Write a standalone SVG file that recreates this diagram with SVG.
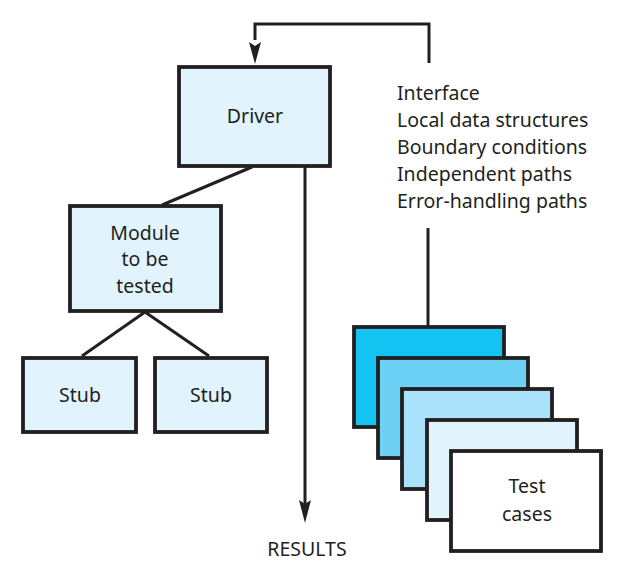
<svg xmlns="http://www.w3.org/2000/svg" width="640" height="580" viewBox="0 0 640 580">
<defs>
<style>
.box{stroke:#231f20;stroke-width:3.8;}
.lt{fill:#e1f3fd;}
.ln{stroke:#231f20;stroke-width:3;fill:none;}
text{font-family:"Noto Sans","Liberation Sans",sans-serif;font-size:19.5px;fill:#231f20;}
.c{text-anchor:middle;}
</style>
</defs>
<rect width="640" height="580" fill="#fff"/>
<g id="connectors">
<path class="ln" d="M429,63 V24 H255 V40"/>
<path d="M249,42 L255,64 L261,42 L255,46 Z" fill="#231f20"/>
<line class="ln" x1="305" y1="167" x2="305" y2="505"/>
<path d="M299,500 L305,523 L311,500 L305,504 Z" fill="#231f20"/>
<line class="ln" x1="252" y1="167" x2="162" y2="205"/>
<line class="ln" x1="145" y1="312" x2="82" y2="356"/>
<line class="ln" x1="145" y1="312" x2="209" y2="356"/>
<line class="ln" x1="428" y1="228" x2="428" y2="326"/>
</g>
<g id="driver">
<rect class="box lt" x="179" y="67" width="151" height="99"/>
<text class="c" x="255" y="123">Driver</text>
</g>
<g id="module">
<rect class="box lt" x="70" y="206" width="151" height="105"/>
<text class="c" x="145" y="240">Module</text>
<text class="c" x="145" y="266">to be</text>
<text class="c" x="145" y="293">tested</text>
</g>
<g id="stub1">
<rect class="box lt" x="23" y="358" width="113" height="74"/>
<text class="c" x="80" y="402">Stub</text>
</g>
<g id="stub2">
<rect class="box lt" x="155" y="358" width="112" height="74"/>
<text class="c" x="211" y="402">Stub</text>
</g>
<g id="criteria">
<text x="397" y="100">Interface</text>
<text x="397" y="127">Local data structures</text>
<text x="397" y="154">Boundary conditions</text>
<text x="397" y="181">Independent paths</text>
<text x="397" y="208">Error-handling paths</text>
</g>
<g id="testcases">
<rect class="box" fill="#14c3f2" x="354" y="327" width="150" height="100"/>
<rect class="box" fill="#6dd0f5" x="378" y="358" width="150" height="100"/>
<rect class="box" fill="#a9e2fa" x="402" y="389" width="150" height="100"/>
<rect class="box" fill="#e1f3fd" x="427" y="420" width="150" height="100"/>
<rect class="box" fill="#ffffff" x="451" y="451" width="150" height="100"/>
<text class="c" x="527" y="493">Test</text>
<text class="c" x="527" y="521">cases</text>
</g>
<g id="results">
<text class="c" x="307" y="556">RESULTS</text>
</g>
</svg>
